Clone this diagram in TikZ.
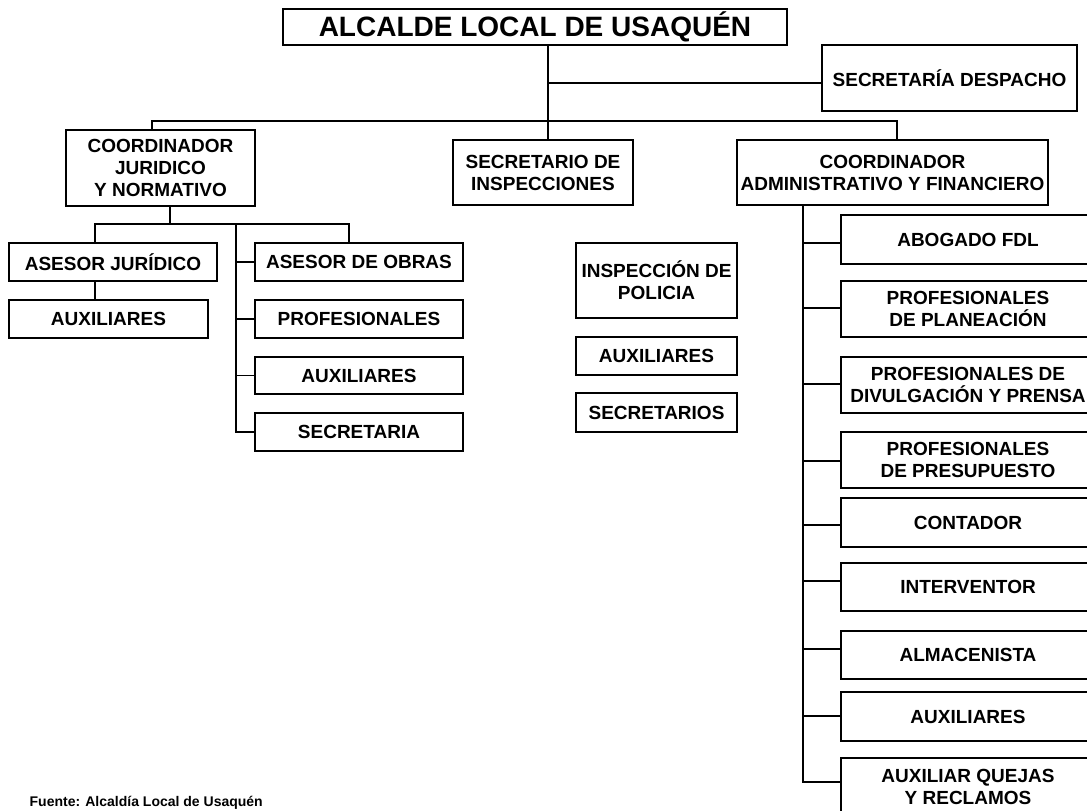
\documentclass[tikz,border=0pt]{standalone}
\usepackage{fontspec}
\setmainfont{Liberation Sans}
\newcommand\orgbox[6]{\node[box, minimum width={(#4-#2)*1pt}, minimum height={(#5-#3)*1pt}] (#1) at ({(#2+#4)/2},{(#3+#5)/2}) {#6};}
\begin{document}
\begin{tikzpicture}[x=1pt,y=-1pt, line width=1.3pt,
  box/.style={draw, line width=1.3pt, inner sep=0pt, align=center, font=\fontsize{19}{22}\selectfont\bfseries},
  conn/.style={draw, line width=1.3pt}]
\useasboundingbox (0,0) rectangle (1087,811);
% top level
\orgbox{title}{283}{9}{787}{45}{\fontsize{28}{30}\selectfont ALCALDE LOCAL DE USAQUÉN}
\orgbox{desp}{822}{45}{1077}{111}{SECRETARÍA DESPACHO}
\orgbox{cjur}{66}{130}{255}{206}{COORDINADOR\\JURIDICO\\Y NORMATIVO}
\orgbox{sins}{453}{140}{633}{205}{SECRETARIO DE\\INSPECCIONES}
\orgbox{cadm}{737}{140}{1048}{205}{COORDINADOR\\ADMINISTRATIVO Y FINANCIERO}
% left
\orgbox{ajur}{9}{243}{217}{281}{ASESOR JURÍDICO}
\orgbox{aux1}{9}{300}{208}{338}{AUXILIARES}
\orgbox{aobr}{255}{243}{463}{281}{ASESOR DE OBRAS}
\orgbox{prof}{255}{300}{463}{338}{PROFESIONALES}
\orgbox{aux2}{255}{357}{463}{394}{AUXILIARES}
\orgbox{secr}{255}{413}{463}{451}{SECRETARIA}
% middle
\orgbox{insp}{576}{243}{737}{318}{INSPECCIÓN DE\\POLICIA}
\orgbox{aux3}{576}{337}{737}{375}{AUXILIARES}
\orgbox{secs}{576}{393}{737}{432}{SECRETARIOS}
% right
\orgbox{abog}{841}{215}{1095}{264}{ABOGADO FDL}
\orgbox{plan}{841}{281}{1095}{337}{PROFESIONALES\\DE PLANEACIÓN}
\orgbox{divu}{841}{357}{1095}{413}{PROFESIONALES DE\\DIVULGACIÓN Y PRENSA}
\orgbox{pres}{841}{432}{1095}{488}{PROFESIONALES\\DE PRESUPUESTO}
\orgbox{cont}{841}{498}{1095}{547}{CONTADOR}
\orgbox{inte}{841}{563}{1095}{611}{INTERVENTOR}
\orgbox{alma}{841}{631}{1095}{679}{ALMACENISTA}
\orgbox{aux4}{841}{692}{1095}{741}{AUXILIARES}
\orgbox{quej}{841}{758}{1095}{816}{AUXILIAR QUEJAS\\Y RECLAMOS}
% junction coordinates
\coordinate (tD) at (548,83);
\coordinate (bM) at (548,121);
\coordinate (bL) at (152,121);
\coordinate (bR) at (897,121);
\coordinate (jL) at (170,224);
\coordinate (j1) at (95,224);
\coordinate (j2) at (349,224);
\coordinate (s0) at (236,224);
\coordinate (sE) at (236,432);
\coordinate (r0) at (803,205);
\coordinate (rE) at (803,782);
% top connectors
\draw[conn] (title.south -| bM) -- (bM |- sins.north);
\draw[conn] (tD) -- (tD -| desp.west);
\draw[conn] (bL |- cjur.north) -- (bL) -- (bR) -- (bR |- cadm.north);
% left connectors
\draw[conn] (cjur.south -| jL) -- (jL);
\draw[conn] (j1 |- ajur.north) -- (j1) -- (j2) -- (j2 |- aobr.north);
\draw[conn] (ajur.south -| j1) -- (aux1.north -| j1);
\draw[conn] (s0) -- (sE) -- (secr.west);
\foreach \n in {aobr,prof,aux2}{\draw[conn] (s0 |- \n.west) -- (\n.west);}
% right connectors
\draw[conn] (cadm.south -| r0) -- (rE) -- (rE -| quej.west);
\foreach \n/\yy in {abog/243,plan/308,divu/384,pres/461,cont/525,inte/581,alma/649,aux4/716}{
  \coordinate (p) at (803,\yy);
  \draw[conn] (p) -- (p -| \n.west);}
% source note
\node[anchor=base west, inner sep=0pt, font=\fontsize{14}{16}\selectfont\bfseries] (src) at (29,806.5) {Fuente: Alcaldía Local de Usaquén};
\end{tikzpicture}
\end{document}
